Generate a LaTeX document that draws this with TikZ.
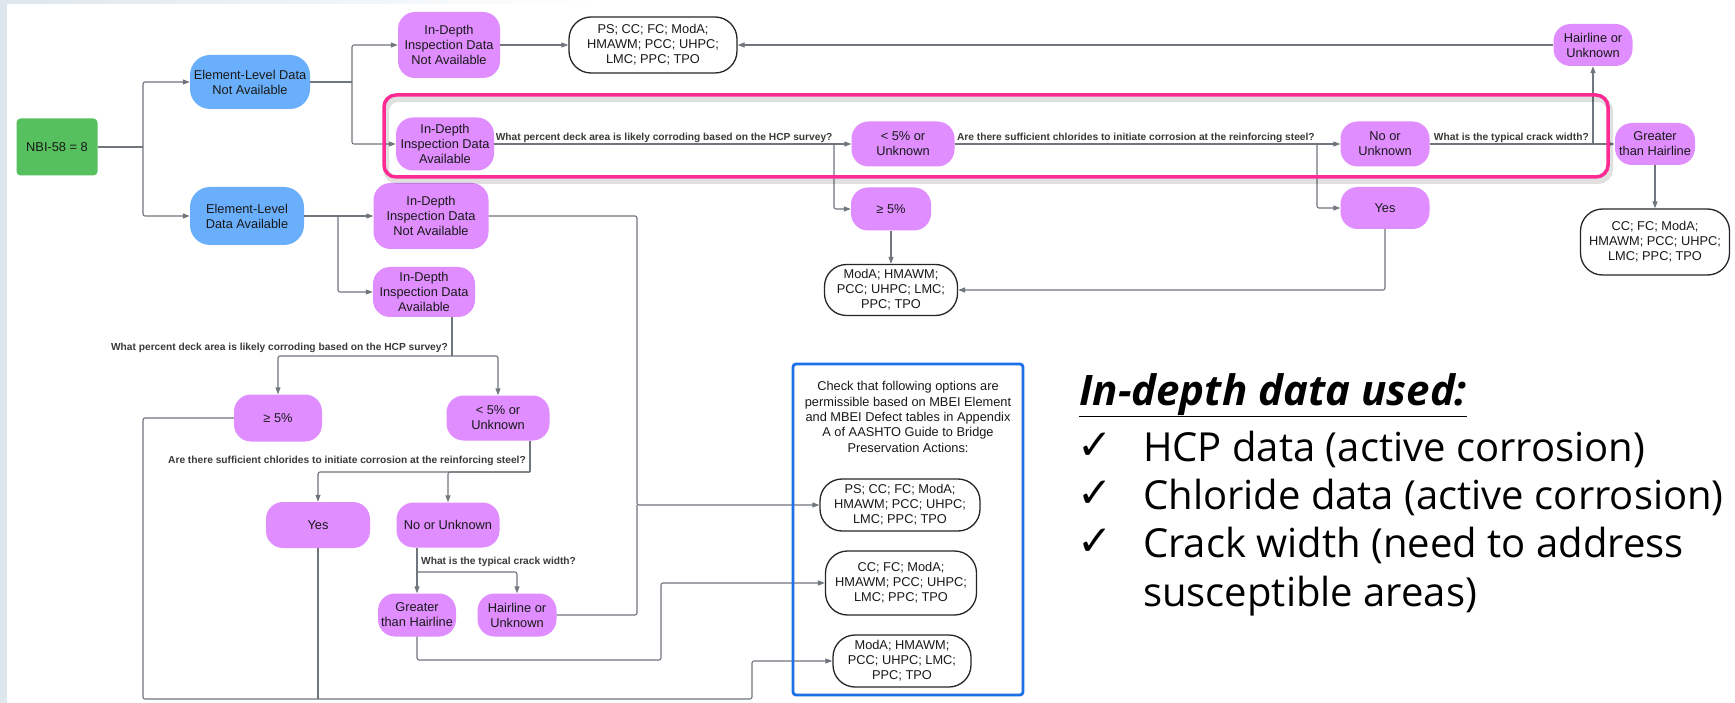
\documentclass[tikz,border=0pt]{standalone}
\usepackage{fontspec}
\setmainfont{Liberation Sans}
\newfontfamily\slidefont{Open Sans}
\newfontfamily\symfont{DejaVu Sans}
\usetikzlibrary{arrows.meta, positioning, calc}

\definecolor{nbigreen}{RGB}{86,192,94}
\definecolor{elblue}{RGB}{106,175,252}
\definecolor{idpurple}{RGB}{223,141,255}
\definecolor{framepink}{RGB}{255,43,146}
\definecolor{frameblue}{RGB}{28,112,232}
\definecolor{linegray}{RGB}{112,118,126}
\definecolor{qgray}{RGB}{58,58,58}
\definecolor{slidebg}{RGB}{222,231,238}

\begin{document}
\begin{tikzpicture}[x=1pt, y=-1pt,
    base/.style={align=center, font=\fontsize{12.8}{15}\selectfont, inner sep=0pt, text=black!90},
    sz/.style 2 args={minimum width=#1pt, minimum height=#2pt},
    start/.style={base, fill=nbigreen, rounded corners=4pt},
    elem/.style={base, fill=elblue, rounded corners=20pt},
    pick/.style={base, fill=idpurple, rounded corners=17pt},
    result/.style={base, draw=black!85, line width=1.3pt, fill=white, rounded corners=22pt},
    conn/.style={-{Triangle[length=7pt,width=5pt]}, linegray, line width=1.1pt, rounded corners=2pt},
    wire/.style={linegray, line width=1.1pt, rounded corners=2pt},
    quest/.style={font=\bfseries\fontsize{10.2}{11}\selectfont, text=qgray, inner sep=1pt},
    usedtext/.style={anchor=base west, inner sep=0pt, font=\slidefont\fontsize{40}{48}\selectfont},
    tick/.style={anchor=base west, inner sep=0pt, font=\symfont\fontsize{42}{46}\selectfont}
]
% slide background
\useasboundingbox (0,0) rectangle (1735,703);
\fill[white] (0,0) rectangle (1735,703);
\fill[slidebg] (0,0) rectangle (7,703);
\shade[left color=slidebg, right color=white] (7,0) rectangle (600,4);

% start and element-level data
\node[start, sz={81}{57}] (nbi)  at (57,147)  {NBI-58 = 8};
\node[elem, sz={120}{54}] (elna) at (250,82)  {Element-Level Data\\Not Available};
\node[elem, sz={114}{58}] (ela)  at (247,216) {Element-Level\\Data Available};

% upper branch
\node[pick, sz={102}{66}] (idna1) at (449,45)   {In-Depth\\Inspection Data\\Not Available};
\node[pick, sz={98}{53}]  (ida1)  at (445,144)  {In-Depth\\Inspection Data\\Available};
\node[pick, sz={103}{45}] (lt5a)  at (903,144)  {< 5\% or\\Unknown};
\node[pick, sz={80}{43}]  (ge5a)  at (891,209)  {≥ 5\%};
\node[pick, sz={89}{45}]  (noa)   at (1385,144) {No or\\Unknown};
\node[pick, sz={89}{42}]  (yesa)  at (1385,208) {Yes};
\node[pick, sz={79}{42}]  (haira) at (1593,45)  {Hairline or\\Unknown};
\node[pick, sz={80}{42}]  (grta)  at (1655,144) {Greater\\than Hairline};

\node[result, sz={168}{56}] (res1) at (653,45)   {PS; CC; FC; ModA;\\HMAWM; PCC; UHPC;\\LMC; PPC; TPO};
\node[result, sz={133}{51}] (res2) at (891,290)  {ModA; HMAWM;\\PCC; UHPC; LMC;\\PPC; TPO};
\node[result, sz={149}{66}] (res3) at (1655,242) {CC; FC; ModA;\\HMAWM; PCC; UHPC;\\LMC; PPC; TPO};

% lower branch
\node[pick, sz={115}{66}] (idna2) at (431,216) {In-Depth\\Inspection Data\\Not Available};
\node[pick, sz={102}{50}] (ida2)  at (424,292) {In-Depth\\Inspection Data\\Available};
\node[pick, sz={88}{47}]  (ge5b)  at (278,418) {≥ 5\%};
\node[pick, sz={103}{45}] (lt5b)  at (498,418) {< 5\% or\\Unknown};
\node[pick, sz={104}{46}] (yesb)  at (318,525) {Yes};
\node[pick, sz={103}{45}] (nob)   at (448,525) {No or Unknown};
\node[pick, sz={78}{43}]  (grtb)  at (417,615) {Greater\\than Hairline};
\node[pick, sz={79}{43}]  (hairb) at (517,615) {Hairline or\\Unknown};

\node[result, sz={160}{52}] (res4) at (900,505) {PS; CC; FC; ModA;\\HMAWM; PCC; UHPC;\\LMC; PPC; TPO};
\node[result, sz={151}{64}] (res5) at (901,583) {CC; FC; ModA;\\HMAWM; PCC; UHPC;\\LMC; PPC; TPO};
\node[result, sz={138}{52}] (res6) at (902,661) {ModA; HMAWM;\\PCC; UHPC; LMC;\\PPC; TPO};

\node[base, font=\fontsize{12.8}{15.3}\selectfont] (note) at (908,417)
  {Check that following options are\\permissible based on MBEI Element\\and MBEI Defect tables in Appendix\\A of AASHTO Guide to Bridge\\Preservation Actions:};

% connectors, top half
\coordinate (s1) at (143,147);
\draw[wire] (nbi) -- (s1);
\draw[conn] (s1) |- (elna);
\draw[conn] (s1) |- (ela);
\coordinate (s2) at (352,82);
\draw[wire] (elna) -- (s2);
\draw[conn] (s2) |- (idna1);
\draw[conn] (s2) |- (ida1);
\draw[conn] (idna1) -- (res1);
\draw[conn] (haira) -- (res1);
\coordinate (s3) at (834,144);
\draw[wire] (ida1) -- node[quest, above] {What percent deck area is likely corroding based on the HCP survey?} (s3);
\draw[conn] (s3) -- (lt5a);
\draw[conn] (s3) |- (ge5a);
\coordinate (s4) at (1317,144);
\draw[wire] (lt5a) -- node[quest, above] {Are there sufficient chlorides to initiate corrosion at the reinforcing steel?} (s4);
\draw[conn] (s4) -- (noa);
\draw[conn] (s4) |- (yesa);
\coordinate (s5) at (1593,144);
\draw[wire] (noa) -- node[quest, above] {What is the typical crack width?} (s5);
\draw[conn] (s5) -- (grta);
\draw[conn] (s5) -- (haira);
\draw[conn] (grta) -- (res3);
\draw[conn] (ge5a) -- (res2);
\draw[conn] (yesa) |- (res2);

% connectors, bottom half
\coordinate (s6) at (338,216);
\draw[wire] (ela) -- (s6);
\draw[conn] (s6) -- (idna2);
\draw[conn] (s6) |- (ida2);
\coordinate (j1) at (637,505);
\draw[conn] (idna2) -| (j1) -- (res4);
\draw[wire] (hairb) -| (j1);
\coordinate (s7) at (452,356);
\draw[wire] (ida2.south -| s7) -- (s7);
\node[quest, anchor=south east, xshift=-3pt, yshift=2pt] at (s7) {What percent deck area is likely corroding based on the HCP survey?};
\draw[conn] (s7) -| (ge5b);
\draw[conn] (s7) -| (lt5b);
\coordinate (s8) at (530,472);
\draw[wire] (lt5b.south -| s8) -- (s8);
\node[quest, anchor=south east, xshift=-3pt, yshift=5pt] at (s8) {Are there sufficient chlorides to initiate corrosion at the reinforcing steel?};
\draw[conn] (s8) -| (yesb);
\draw[conn] (s8) -| (nob);
\coordinate (s9) at (417,572);
\draw[wire] (nob.south -| s9) -- (s9);
\node[quest, anchor=south west, xshift=3pt, yshift=4pt] at (s9) {What is the typical crack width?};
\draw[conn] (s9) -- (grtb);
\draw[conn] (s9) -| (hairb);
\coordinate (j2) at (661,660);
\draw[conn] (grtb) |- (j2) |- (res5);
\coordinate (j3) at (143,699);
\coordinate (j4) at (752,661);
\draw[conn] (ge5b) -| (j3) -| (j4) -- (res6);
\draw[wire] (yesb) -- (yesb.south |- j3);

% frames
\draw[black, opacity=0.12, line width=6pt, rounded corners=12pt] (386,99) rectangle (1610,181);
\draw[framepink, line width=3.5pt, rounded corners=12pt] (384,95) rectangle (1608,177);
\draw[frameblue, line width=2.8pt, rounded corners=3pt] (793,364) rectangle (1023,695);

% side notes
\node[anchor=base west, inner sep=0pt, font=\slidefont\bfseries\itshape\fontsize{42}{48}\selectfont] (title) at (1079,405) {\underline{In-depth data used:}};
\node[usedtext] (hcp)   at (1143,461) {HCP data (active corrosion)};
\node[usedtext] (chl)   at (1143,509) {Chloride data (active corrosion)};
\node[usedtext] (crack) at (1143,557) {Crack width (need to address};
\node[usedtext] (susc)  at (1143,606) {susceptible areas)};
\node[tick] at (1077,459) {✓};
\node[tick] at (1077,507) {✓};
\node[tick] at (1077,555) {✓};
\end{tikzpicture}
\end{document}
